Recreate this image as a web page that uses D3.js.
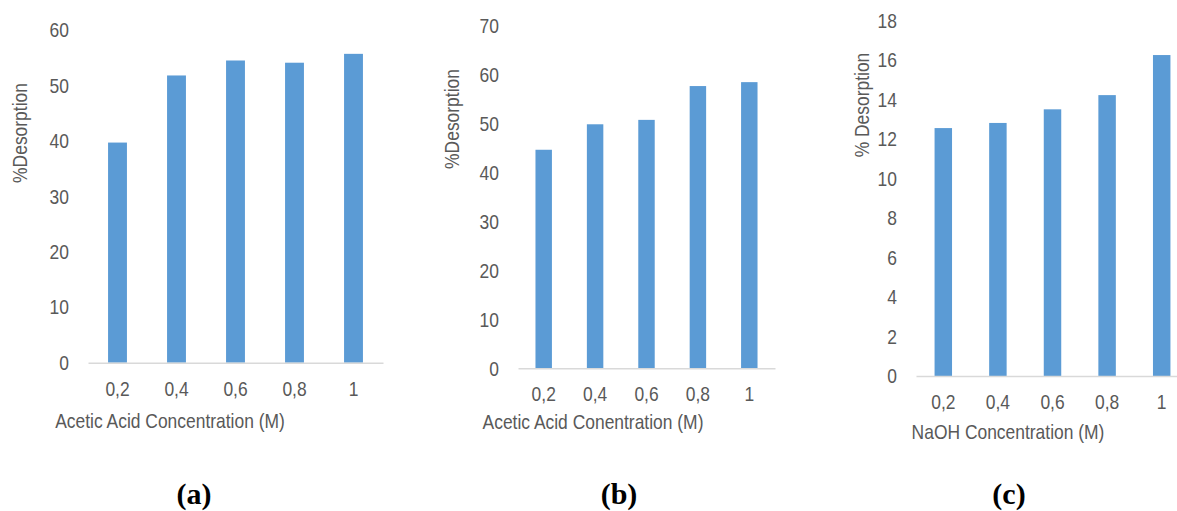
<!DOCTYPE html>
<html>
<head>
<meta charset="utf-8">
<script src="https://cdn.jsdelivr.net/npm/d3@7/dist/d3.min.js"></script>
<style>
  html, body { margin: 0; padding: 0; background: #fff; }
  svg { display: block; }
  .tick text, .title { font-family: "Liberation Sans", Arial, sans-serif; fill: #595959; }
  .panel-label { font-family: "Liberation Serif", "Times New Roman", serif; font-weight: bold; fill: #000; }
</style>
</head>
<body>
<svg id="chart" width="1177" height="511"></svg>
<script>
// Concentrations shared by all three panels
const concentrations = ["0,2", "0,4", "0,6", "0,8", "1"];

// % desorption measured at each concentration
const desorptionAcetic1 = [39.7, 51.8, 54.5, 54.1, 55.7];
const desorptionAcetic2 = [44.6, 49.8, 50.7, 57.6, 58.4];
const desorptionNaOH = [12.56, 12.82, 13.51, 14.23, 16.26];

// Y tick values per panel
const ticksA = [0, 10, 20, 30, 40, 50, 60];
const ticksB = [0, 10, 20, 30, 40, 50, 60, 70];
const ticksC = [0, 2, 4, 6, 8, 10, 12, 14, 16, 18];

// Text
const yTitles = ["%Desorption", "%Desorption", "% Desorption"];
const xTitles = ["Acetic Acid Concentration (M)", "Acetic Acid Conentration (M)", "NaOH Concentration (M)"];
const panelLabels = ["(a)", "(b)", "(c)"];

// Frame geometry of each panel
const panels = [
  { values: desorptionAcetic1, ticks: ticksA, x0: 88, x1: 383, yBase: 362.7, yTop: 30, yTitleX: 20, yTitleY: 133, xTitleX: 170, xTitleY: 421, labelX: 194 },
  { values: desorptionAcetic2, ticks: ticksB, x0: 518, x1: 775, yBase: 368.3, yTop: 25.3, yTitleX: 452, yTitleY: 119, xTitleX: 593, xTitleY: 422, labelX: 619 },
  { values: desorptionNaOH, ticks: ticksC, x0: 916, x1: 1189, yBase: 376, yTop: 20.7, yTitleX: 862, yTitleY: 105, xTitleX: 1008, xTitleY: 432, labelX: 1009 }
];

const svg = d3.select("#chart");
const fontSize = 21;
const narrow = 0.83; // condensed sans look

panels.forEach((p, i) => {
  const g = svg.append("g");
  const x = d3.scaleBand().domain(concentrations).range([p.x0, p.x1]).paddingInner(0.68).paddingOuter(0.34);
  const y = d3.scaleLinear().domain([0, d3.max(p.ticks)]).range([p.yBase, p.yTop]);

  // Bars
  g.selectAll("rect.bar")
    .data(p.values)
    .join("rect")
    .attr("class", "bar")
    .attr("x", (d, j) => x(concentrations[j]))
    .attr("width", x.bandwidth())
    .attr("y", d => y(d))
    .attr("height", d => y(0) - y(d))
    .attr("fill", "#5B9BD5");

  // Y axis (labels only)
  const ya = g.append("g")
    .attr("transform", `translate(${p.x0},0)`)
    .call(d3.axisLeft(y).tickValues(p.ticks).tickSize(0).tickPadding(19).tickFormat(d3.format("d")));
  ya.select(".domain").remove();
  ya.selectAll("text").attr("font-size", fontSize).attr("font-family", null).classed("cond", true);

  // X axis baseline and labels
  const xa = g.append("g")
    .attr("transform", `translate(0,${p.yBase})`)
    .call(d3.axisBottom(x).tickSize(0).tickPadding(18));
  xa.select(".domain").attr("stroke", "#D9D9D9").attr("stroke-width", 1.5);
  xa.selectAll("text").attr("font-size", fontSize).attr("font-family", null).classed("cond", true);

  // Axis titles
  g.append("text")
    .attr("class", "title cond")
    .attr("transform", `translate(${p.yTitleX},${p.yTitleY}) rotate(-90)`)
    .attr("text-anchor", "middle")
    .attr("dy", "0.35em")
    .attr("font-size", fontSize)
    .text(yTitles[i]);

  g.append("text")
    .attr("class", "title cond")
    .attr("x", p.xTitleX)
    .attr("y", p.xTitleY)
    .attr("text-anchor", "middle")
    .attr("dy", "0.35em")
    .attr("font-size", fontSize)
    .text(xTitles[i]);

  // Panel label
  svg.append("text")
    .attr("class", "panel-label")
    .attr("x", p.labelX)
    .attr("y", 504)
    .attr("text-anchor", "middle")
    .attr("font-size", 30)
    .text(panelLabels[i]);
});

// Condense sans text horizontally
svg.selectAll("text.cond").each(function () {
  const w = this.getComputedTextLength();
  d3.select(this).attr("textLength", w * narrow).attr("lengthAdjust", "spacingAndGlyphs");
});
</script>
</body>
</html>
